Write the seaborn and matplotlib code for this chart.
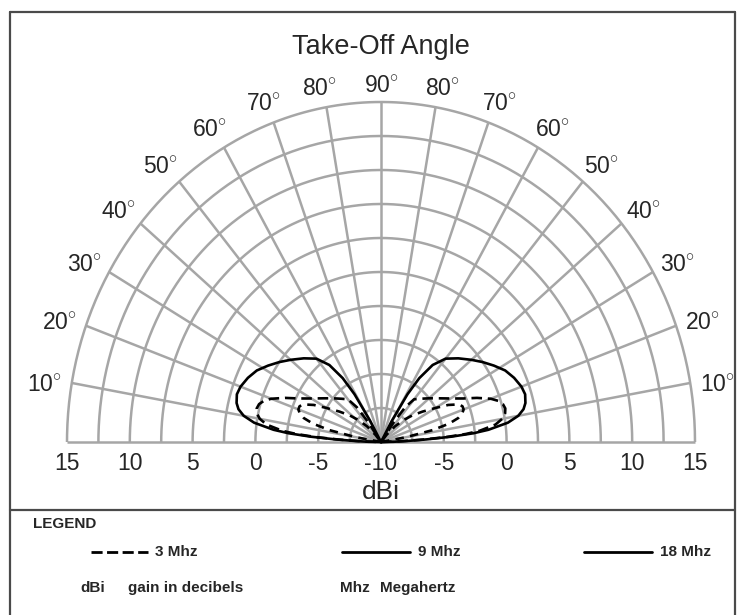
import numpy as np
import pandas as pd
import matplotlib.pyplot as plt
import seaborn as sns
from matplotlib.lines import Line2D
from matplotlib import font_manager

sns.set_style("white")
plt.rcParams['font.family'] = ['Liberation Sans', 'DejaVu Sans']
plt.rcParams['mathtext.fontset'] = 'custom'
plt.rcParams['mathtext.rm'] = 'Liberation Sans'

# take-off angle (deg) and gain (dBi), -10 = centre of plot
ang_3 = [0, 2, 3, 4, 5, 6, 8, 10, 12, 14, 16, 18, 20, 23, 26, 30, 35, 40, 45, 50, 53, 55, 57]
dbi_3 = [-10, -8.5, -6.7, -4.8, -3.2, -2.1, -0.8, -0.2, 0.1, 0.2, 0.1, -0.2, -0.7, -1.7,
         -2.7, -3.6, -4.4, -5.0, -5.5, -5.9, -6.8, -8.2, -10]

ang_9 = [8, 10, 12, 14, 16, 18, 20, 22, 24, 27, 30, 34, 38, 42, 46, 50, 53]
dbi_9 = [-10, -8.0, -5.8, -4.4, -3.6, -3.2, -3.0, -3.0, -3.2, -4.0, -5.0, -6.0, -6.8,
         -7.6, -8.4, -9.3, -10]

ang_18 = [0, 1, 2, 3, 4, 5, 6, 8, 10, 12, 14, 17, 20, 24, 28, 32, 36, 40, 45, 50, 54,
          57, 59, 61, 62]
dbi_18 = [-10, -9.0, -8.0, -6.4, -4.4, -2.6, -1.4, 0.2, 1.1, 1.6, 1.85, 2.0, 1.9, 1.6,
          1.2, 0.6, 0.0, -0.6, -1.3, -2.0, -3.0, -4.4, -5.9, -8.2, -10]

ring_db = [-7.5, -5, -2.5, 0, 2.5, 5, 7.5, 10, 12.5, 15]
tick_db = [15, 10, 5, 0, -5]
spoke_angles = list(range(0, 181, 10))
label_angles = [10, 20, 30, 40, 50, 60, 70, 80]

# build long table: right lobe then mirrored left lobe
rows = []
for name, ang, dbi in [("3 Mhz", ang_3, dbi_3), ("9 Mhz", ang_9, dbi_9),
                       ("18 Mhz", ang_18, dbi_18)]:
    a = np.array(ang, dtype=float)
    r = np.clip(np.array(dbi) + 10, 0, None)
    full_a = np.concatenate([a, 180 - a[::-1]])
    full_r = np.concatenate([r, r[::-1]])
    t = np.deg2rad(full_a)
    for i in range(len(full_a)):
        rows.append({"band": name, "order": i, "x": full_r[i] * np.cos(t[i]),
                     "y": full_r[i] * np.sin(t[i])})
df = pd.DataFrame(rows)

W, H = 744, 615
fig = plt.figure(figsize=(W / 100, H / 100), dpi=100)
ax = fig.add_axes([67 / W, 1 - 442 / H, 628 / W, 340 / H])
ax.set_xlim(-25, 25)
ax.set_ylim(0, 25)
ax.axis("off")

grid_kw = dict(color="#a6a6a6", lw=1.8, clip_on=False, zorder=1, solid_capstyle="butt")
th = np.linspace(0, np.pi, 300)
for db in ring_db:
    r = db + 10
    ax.plot(r * np.cos(th), r * np.sin(th), **grid_kw)
for a in spoke_angles:
    t = np.deg2rad(a)
    ax.plot([0, 25 * np.cos(t)], [0, 25 * np.sin(t)], **grid_kw)

sns.lineplot(data=df, x="x", y="y", style="band", units="band", estimator=None,
             sort=False, color="black", lw=1.9, legend=False, ax=ax,
             dashes={"3 Mhz": (4, 2.2), "9 Mhz": (3.2, 2.4), "18 Mhz": ""},
             zorder=3)
for line in ax.lines:
    line.set_clip_on(False)

# dB tick labels along the ground line
for d in tick_db:
    for s in (-1, 1):
        ax.text(s * (d + 10), -1.55, f"{d}", ha="center", va="center", fontsize=16.5)
ax.text(0, -1.55, "-10", ha="center", va="center", fontsize=16.5)
ax.text(0, -3.65, "dBi", ha="center", va="center", fontsize=19)

# take-off angle labels
for a in label_angles:
    for s in (1, -1):
        t = np.deg2rad(a - 0.5 - 0.6 * np.cos(np.deg2rad(a)))
        rr = 26.3 + 0.8 * np.cos(t)
        ax.text(s * rr * np.cos(t), rr * np.sin(t), f"{a}$^{{\\circ}}$", ha="center",
                va="center", fontsize=16.5)
ax.text(0, 26.2, "90$^{\\circ}$", ha="center", va="center", fontsize=16.5)
ax.text(0, 29.05, "Take-Off Angle", ha="center", va="center", fontsize=19.5)

# frame and legend box
def fx(px):
    return px / W

def fy(py):
    return 1 - py / H

frame_kw = dict(color="#4a4a4a", lw=1.6)
fig.add_artist(Line2D([fx(10), fx(735)], [fy(12), fy(12)], **frame_kw))
fig.add_artist(Line2D([fx(10), fx(10)], [fy(12), fy(615)], **frame_kw))
fig.add_artist(Line2D([fx(735), fx(735)], [fy(12), fy(615)], **frame_kw))
fig.add_artist(Line2D([fx(10), fx(735)], [fy(510), fy(510)], **frame_kw))

narrow = [f for f in ['Liberation Sans Narrow', 'Liberation Sans']
          if any(e.name == f for e in font_manager.fontManager.ttflist)]
leg_kw = dict(fontsize=13 if narrow[0].endswith('Narrow') else 11,
              fontweight="bold", va="center", family=narrow + ['DejaVu Sans'])
fig.text(fx(33), fy(524), "LEGEND", **leg_kw)
fig.add_artist(Line2D([fx(91), fx(148)], [fy(552), fy(552)], color="black", lw=2,
                      dashes=(4, 1.6)))
fig.text(fx(155), fy(552), "3 Mhz", **leg_kw)
fig.add_artist(Line2D([fx(342), fx(410)], [fy(552), fy(552)], color="black", lw=2))
fig.text(fx(418), fy(552), "9 Mhz", **leg_kw)
fig.add_artist(Line2D([fx(584), fx(652)], [fy(552), fy(552)], color="black", lw=2))
fig.text(fx(660), fy(552), "18 Mhz", **leg_kw)
fig.text(fx(80), fy(588), "dBi", **leg_kw)
fig.text(fx(128), fy(588), "gain in decibels", **leg_kw)
fig.text(fx(340), fy(588), "Mhz", **leg_kw)
fig.text(fx(380), fy(588), "Megahertz", **leg_kw)

fig.savefig("out.png", dpi=100)
